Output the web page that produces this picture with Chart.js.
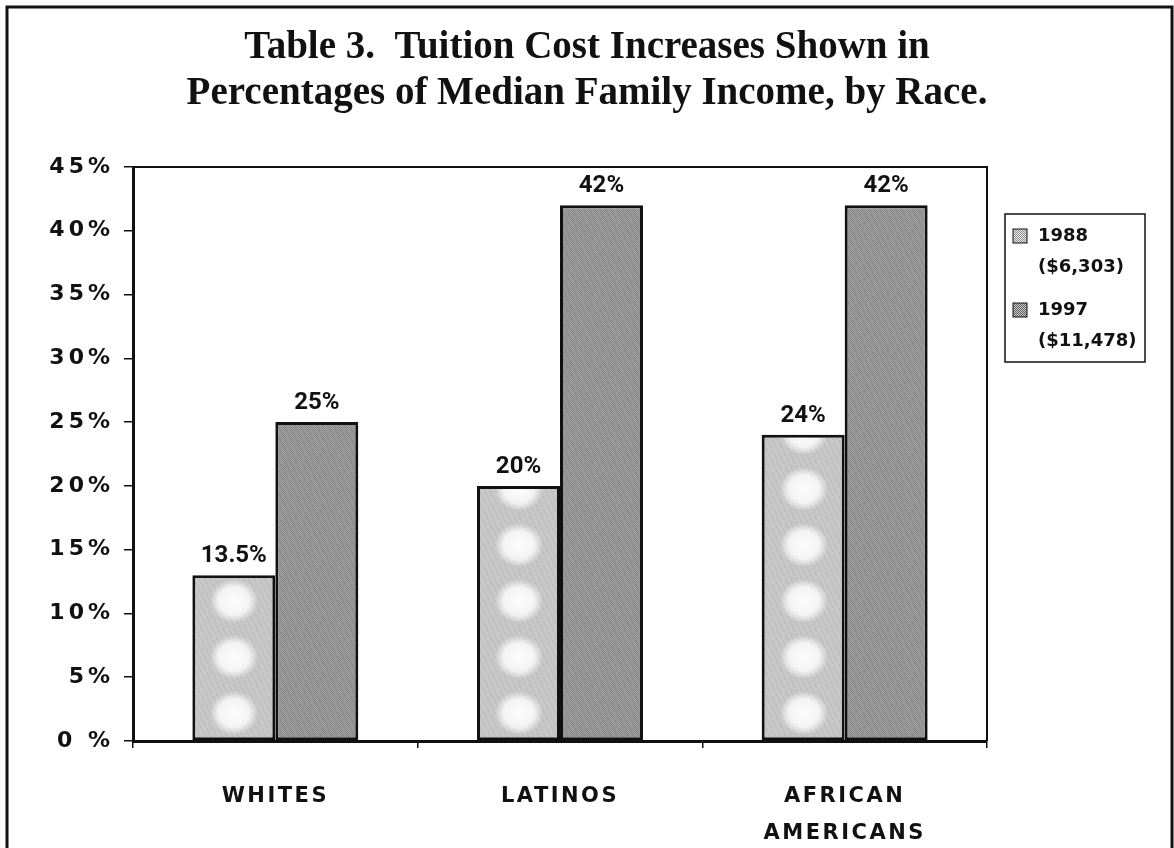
<!DOCTYPE html>
<html>
<head>
<meta charset="utf-8">
<title>Tuition Cost Increases</title>
<script src="https://cdn.jsdelivr.net/npm/chart.js@4.4.1/dist/chart.umd.min.js"></script>
<style>
  html, body { margin: 0; padding: 0; background: #fff; }
  canvas { display: block; }
</style>
</head>
<body>
<canvas id="chart" width="1174" height="848"></canvas>
<script>

const titleLines = ['Table 3.  Tuition Cost Increases Shown in', 'Percentages of Median Family Income, by Race.'];
const categories = ['WHITES', 'LATINOS', ['AFRICAN', 'AMERICANS']];
const seriesNames = ['1988', '1997'];
const seriesNotes = ['($6,303)', '($11,478)'];
const values1988 = [13, 20, 24];
const values1997 = [25, 42, 42];
const valueLabels1988 = ['13.5%', '20%', '24%'];
const valueLabels1997 = ['25%', '42%', '42%'];
const yTickLabels = ['0 %', '5%', '10%', '15%', '20%', '25%', '30%', '35%', '40%', '45%'];

const valueLabels = [valueLabels1988, valueLabels1997];
const CAT_PCT = 0.583;
const INK = '#111';

let chart;
const patternCache = {};

// halftone-like fill; the 1988 bars get a column of white blobs like the scan
function barPattern(c, dsIndex) {
    const fallback = dsIndex ? '#9c9c9c' : '#cbcbcb';
    const area = c.chartArea;
    const x = c.scales && c.scales.x;
    if (!area || !x || !isFinite(x.getPixelForValue(1))) return fallback;
    const step = x.getPixelForValue(1) - x.getPixelForValue(0);
    if (!(step > 4)) return fallback;
    const barW = step * CAT_PCT / 2;
    const center0 = x.getPixelForValue(0) + (dsIndex - 0.5) * barW;
    const key = dsIndex + ':' + step.toFixed(1) + ':' + center0.toFixed(1) + ':' + area.bottom;
    if (patternCache[key]) return patternCache[key];

    const w = Math.round(step), h = 56;
    const tile = document.createElement('canvas');
    tile.width = w; tile.height = h;
    const g = tile.getContext('2d');
    const img = g.createImageData(w, h);
    for (let py = 0; py < h; py++) {
        for (let px = 0; px < w; px++) {
            const chk = (px + py) & 1;
            const grain = ((px * 7 + py * 13) % 11 === 0) ? -30 : 0;
            let v;
            if (dsIndex) v = chk ? 0x66 : 0xc8;
            else v = chk ? 0xa2 : 0xee;
            v = Math.max(0, Math.min(255, v + grain));
            const i = (py * w + px) * 4;
            img.data[i] = img.data[i + 1] = img.data[i + 2] = v;
            img.data[i + 3] = 255;
        }
    }
    g.putImageData(img, 0, 0);
    if (!dsIndex) {
        g.save();
        g.translate(w / 2, h / 2);
        g.scale(1.1, 1);
        const rg = g.createRadialGradient(0, 0, 2, 0, 0, 22);
        rg.addColorStop(0, 'rgba(255,255,255,0.95)');
        rg.addColorStop(0.6, 'rgba(255,255,255,0.8)');
        rg.addColorStop(1, 'rgba(255,255,255,0)');
        g.fillStyle = rg;
        g.beginPath();
        g.arc(0, 0, 22, 0, Math.PI * 2);
        g.fill();
        g.restore();
    }
    const pat = c.ctx.createPattern(tile, 'repeat');
    pat.setTransform(new DOMMatrix([1, 0, 0, 1, center0 - w / 2, area.bottom]));
    patternCache[key] = pat;
    return pat;
}

function swatchPattern(ctx, dsIndex) {
    const t = document.createElement('canvas');
    t.width = 2; t.height = 2;
    const g = t.getContext('2d');
    g.fillStyle = dsIndex ? '#cccccc' : '#eeeeee';
    g.fillRect(0, 0, 2, 2);
    g.fillStyle = dsIndex ? '#5e5e5e' : '#8a8a8a';
    g.fillRect(0, 0, 1, 1);
    g.fillRect(1, 1, 1, 1);
    return ctx.createPattern(t, 'repeat');
}

const scanLook = {
    id: 'scanLook',
    beforeDraw(c) {
        const ctx = c.ctx;
        ctx.save();
        ctx.fillStyle = '#fff';
        ctx.fillRect(0, 0, c.width, c.height);
        ctx.restore();
        // y tick labels are drawn in the first layer pass
        ctx.letterSpacing = '4px';
    },
    beforeDatasetsDraw(c) {
        const ctx = c.ctx;
        const a = c.chartArea;
        ctx.letterSpacing = '0px';
        ctx.save();
        ctx.strokeStyle = INK;
        ctx.lineWidth = 2;
        ctx.beginPath();
        ctx.moveTo(a.left, a.top);
        ctx.lineTo(a.right, a.top);
        ctx.lineTo(a.right, a.bottom);
        ctx.stroke();
        ctx.restore();
    },
    afterDatasetsDraw(c) {
        const ctx = c.ctx;
        ctx.save();
        ctx.letterSpacing = '0px';
        ctx.fillStyle = INK;
        ctx.font = 'bold 24px "Liberation Sans Narrow", "Roboto", sans-serif';
        ctx.textAlign = 'center';
        ctx.textBaseline = 'middle';
        c.data.datasets.forEach((ds, d) => {
            c.getDatasetMeta(d).data.forEach((bar, i) => {
                ctx.fillText(valueLabels[d][i], bar.x, bar.y - 19);
            });
        });
        ctx.restore();
        // x tick labels come next (ticks.z = 1)
        ctx.letterSpacing = '2.5px';
    },
    afterDraw(c) {
        const ctx = c.ctx;
        const a = c.chartArea;
        ctx.letterSpacing = '0px';
        ctx.save();
        ctx.fillStyle = INK;

        // title
        ctx.font = 'bold 39px "Liberation Serif", "DejaVu Serif", serif';
        ctx.textAlign = 'center';
        ctx.textBaseline = 'middle';
        titleLines.forEach((line, i) => ctx.fillText(line, c.width / 2, 48 + i * 46));

        // legend
        const lx = a.right + 18, ly = 214;
        ctx.strokeStyle = INK;
        ctx.lineWidth = 1.5;
        ctx.strokeRect(lx, ly, 140, 148);
        ctx.font = 'bold 18px "DejaVu Sans", sans-serif';
        ctx.textAlign = 'left';
        c.data.datasets.forEach((ds, d) => {
            const y0 = ly + 22 + d * 74;
            ctx.fillStyle = swatchPattern(ctx, d);
            ctx.fillRect(lx + 8, y0 - 7, 14, 14);
            ctx.lineWidth = 1;
            ctx.strokeRect(lx + 8, y0 - 7, 14, 14);
            ctx.fillStyle = INK;
            ctx.fillText(seriesNames[d], lx + 33, y0);
            ctx.fillText(seriesNotes[d], lx + 33, y0 + 31);
        });

        // outer frame of the scanned page
        ctx.lineWidth = 3;
        ctx.beginPath();
        ctx.moveTo(7, 848);
        ctx.lineTo(7, 7);
        ctx.lineTo(1172, 7);
        ctx.lineTo(1172, 848);
        ctx.stroke();
        ctx.restore();
    }
};

function drawChart() {
    const ctx = document.getElementById('chart').getContext('2d');
    chart = new Chart(ctx, {
        type: 'bar',
        data: {
            labels: categories,
            datasets: [{
                label: seriesNames[0] + ' ' + seriesNotes[0],
                data: values1988,
                backgroundColor: c => barPattern(c.chart, 0),
                borderColor: INK,
                borderWidth: 3,
                borderSkipped: false
            }, {
                label: seriesNames[1] + ' ' + seriesNotes[1],
                data: values1997,
                backgroundColor: c => barPattern(c.chart, 1),
                borderColor: INK,
                borderWidth: 3,
                borderSkipped: false
            }]
        },
        options: {
            responsive: false,
            devicePixelRatio: 1,
            animation: false,
            categoryPercentage: CAT_PCT,
            barPercentage: 1.0,
            layout: { padding: { top: 167, left: 10, right: 187, bottom: 0 } },
            plugins: {
                legend: { display: false },
                title: { display: false },
                tooltip: { enabled: false }
            },
            scales: {
                x: {
                    grid: { offset: true, drawOnChartArea: false, color: INK, lineWidth: 1.5, tickLength: 7 },
                    border: { color: INK, width: 3 },
                    ticks: {
                        z: 1,
                        color: INK,
                        padding: 30,
                        maxRotation: 0,
                        font: { family: '"DejaVu Sans", sans-serif', weight: 'bold', size: 21, lineHeight: 1.76 }
                    },
                    afterFit: s => { s.height = 107; }
                },
                y: {
                    min: 0,
                    max: 45,
                    grid: { drawOnChartArea: false, color: INK, lineWidth: 1.5, tickLength: 9 },
                    border: { color: INK, width: 3 },
                    ticks: {
                        stepSize: 5,
                        color: INK,
                        padding: 10,
                        font: { family: '"DejaVu Sans", sans-serif', weight: 'bold', size: 22 },
                        callback: (value, index) => yTickLabels[index]
                    },
                    afterFit: s => { s.width = 123; }
                }
            }
        },
        plugins: [scanLook]
    });
}

drawChart();
</script>
</body>
</html>
